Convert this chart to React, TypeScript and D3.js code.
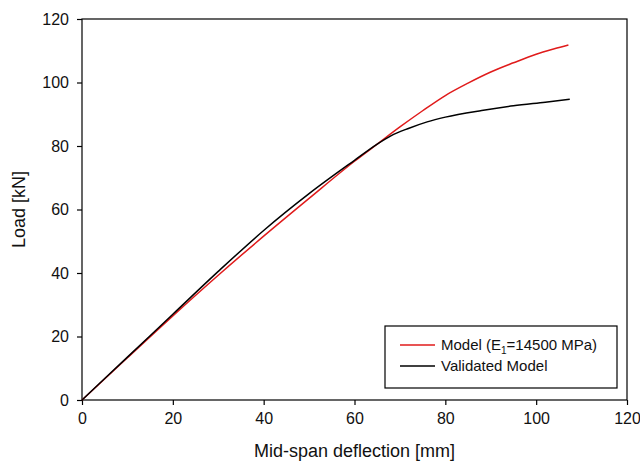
import React, { useRef, useEffect } from 'react'
import * as d3 from 'd3'

const deflModel = [0, 10, 20, 30, 40, 50, 60, 65, 70, 75, 80, 85, 90, 95, 100, 104, 107.1]
const loadModel = [0, 13.3, 26.5, 39.3, 51.6, 63.5, 75.2, 80.6, 86, 91.1, 95.9, 99.8, 103.3, 106.2, 108.9, 110.6, 111.8]

const deflValid = [0, 10, 20, 30, 40, 50, 60, 65, 68, 72, 76, 80, 88, 95, 102, 107.4]
const loadValid = [0, 13.5, 27, 40.5, 53.4, 65, 75.5, 80.6, 83.2, 85.6, 87.6, 89.1, 91.2, 92.7, 93.8, 94.7]

const xTicks = [0, 20, 40, 60, 80, 100, 120]
const yTicks = [0, 20, 40, 60, 80, 100, 120]

const W = 640, H = 463
const margin = { top: 19, right: 13, bottom: 63, left: 82 }

function App() {
  const ref = useRef<SVGSVGElement>(null)

  useEffect(() => {
    const svg = d3.select(ref.current)
    svg.selectAll('*').remove()

    const width = W - margin.left - margin.right
    const height = H - margin.top - margin.bottom
    const font = 'Liberation Sans, Arial, sans-serif'

    const x = d3.scaleLinear().domain([0, 120]).range([0, width])
    const y = d3.scaleLinear().domain([0, 120]).range([height, 0])

    const g = svg.append('g').attr('transform', `translate(${margin.left},${margin.top})`)

    // frame
    g.append('rect')
      .attr('x', 0).attr('y', 0)
      .attr('width', width).attr('height', height)
      .attr('fill', 'none').attr('stroke', '#000').attr('stroke-width', 1.2)

    const xAxis = g.append('g')
      .attr('transform', `translate(0,${height})`)
      .call(d3.axisBottom(x).tickValues(xTicks).tickSize(5).tickPadding(8).tickFormat(d3.format('d')))
    const yAxis = g.append('g')
      .call(d3.axisLeft(y).tickValues(yTicks).tickSize(5).tickPadding(8).tickFormat(d3.format('d')))

    ;[xAxis, yAxis].forEach(a => {
      a.select('.domain').remove()
      a.selectAll('line').attr('stroke', '#000').attr('stroke-width', 1.2)
      a.selectAll('text').attr('font-family', font).attr('font-size', 16).attr('fill', '#111')
    })

    const lineGen = d3.line<[number, number]>()
      .x(d => x(d[0]))
      .y(d => y(d[1]))
      .curve(d3.curveMonotoneX)

    const model = deflModel.map((d, i) => [d, loadModel[i]] as [number, number])
    const valid = deflValid.map((d, i) => [d, loadValid[i]] as [number, number])

    g.append('path').datum(model)
      .attr('d', lineGen).attr('fill', 'none')
      .attr('stroke', '#e01b1b').attr('stroke-width', 1.5)
    g.append('path').datum(valid)
      .attr('d', lineGen).attr('fill', 'none')
      .attr('stroke', '#000').attr('stroke-width', 1.5)

    // axis titles
    g.append('text')
      .attr('x', width / 2).attr('y', height + 57)
      .attr('text-anchor', 'middle')
      .attr('font-family', font).attr('font-size', 18).attr('fill', '#111')
      .text('Mid-span deflection [mm]')
    g.append('text')
      .attr('transform', `translate(${-57},${height / 2}) rotate(-90)`)
      .attr('text-anchor', 'middle')
      .attr('font-family', font).attr('font-size', 18).attr('fill', '#111')
      .text('Load [kN]')

    // legend
    const lg = g.append('g').attr('transform', `translate(${385 - margin.left},${326 - margin.top})`)
    lg.append('rect')
      .attr('width', 232).attr('height', 62)
      .attr('fill', '#fff').attr('stroke', '#000').attr('stroke-width', 1.2)
    const items = [
      { color: '#e01b1b', label: 'Model', sub: true },
      { color: '#000', label: 'Validated Model', sub: false }
    ]
    items.forEach((it, i) => {
      const yy = 19 + i * 21
      lg.append('line')
        .attr('x1', 15).attr('x2', 50).attr('y1', yy).attr('y2', yy)
        .attr('stroke', it.color).attr('stroke-width', 1.5)
      const t = lg.append('text')
        .attr('x', 56).attr('y', yy + 5)
        .attr('font-family', font).attr('font-size', 15).attr('fill', '#111')
      if (it.sub) {
        t.append('tspan').text('Model (E')
        t.append('tspan').attr('font-size', 10).attr('dy', 4).text('1')
        t.append('tspan').attr('dy', -4).text('=14500 MPa)')
      } else {
        t.text(it.label)
      }
    })
  }, [])

  return (
    <svg ref={ref} width={W} height={H} viewBox={`0 0 ${W} ${H}`}
      style={{ position: 'absolute', left: 0, top: 0, background: '#fff' }} />
  )
}

export default App
